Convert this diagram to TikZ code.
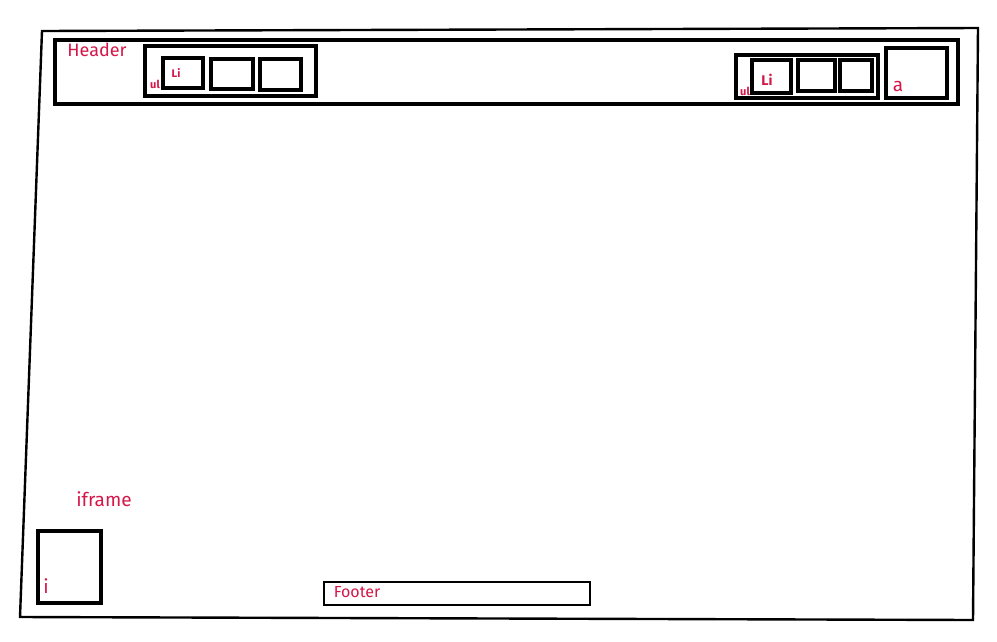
\documentclass[tikz,border=0pt]{standalone}
\usepackage{fontspec}
\setmainfont{Fira Sans}
\definecolor{inkred}{RGB}{212,22,72}

\begin{document}
\begin{tikzpicture}[
  x=1pt, y=-1pt,
  box/.style={draw,line width=3.4pt,inner sep=0pt},
  thinbox/.style={draw,line width=2.4pt,inner sep=0pt},
  lbl/.style={text=inkred,inner sep=0pt,font=\fontsize{19}{19}\selectfont},
  slbl/.style={text=inkred,inner sep=0pt,font=\fontsize{11}{11}\selectfont\bfseries}
]
  \useasboundingbox (0,0) rectangle (997,641);
  % page outline
  \draw[line width=2.4pt] (42,31) -- (978,28) -- (973,620) -- (20,617) -- cycle;
  % header bar
  \node[box,minimum width=903,minimum height=64] (header) at (506.5,72) {};
  \node[lbl,font=\fontsize{18}{18}\selectfont] (headertxt) at (97,50) {Header};
  % left menu
  \node[box,minimum width=171,minimum height=50] (ulL) at (230.5,71) {};
  \node[box,minimum width=40,minimum height=30] (liL1) at (183,73) {};
  \node[box,minimum width=42,minimum height=30] (liL2) at (232,74) {};
  \node[box,minimum width=41,minimum height=31] (liL3) at (280.5,74.5) {};
  \node[slbl] (ulLtxt) at (155,84) {ul};
  \node[slbl] (liLtxt) at (176,73) {Li};
  % right menu
  \node[box,minimum width=142,minimum height=43] (ulR) at (807,76.5) {};
  \node[box,minimum width=39,minimum height=33] (liR1) at (771.5,76.5) {};
  \node[box,minimum width=37,minimum height=31] (liR2) at (816.5,75.5) {};
  \node[box,minimum width=32,minimum height=31] (liR3) at (856,75.5) {};
  \node[slbl] (ulRtxt) at (745,91) {ul};
  \node[slbl,font=\fontsize{14}{14}\selectfont\bfseries] (liRtxt) at (767,80) {Li};
  % link box
  \node[box,minimum width=61,minimum height=50] (abox) at (916.5,73) {};
  \node[lbl] (atxt) at (898,86) {a};
  % iframe
  \node[lbl] (iframetxt) at (104,499) {iframe};
  \node[box,minimum width=63,minimum height=72] (ibox) at (69.5,567) {};
  \node[lbl] (itxt) at (46,586) {i};
  % footer
  \node[thinbox,minimum width=266,minimum height=23] (footer) at (457,593.5) {};
  \node[lbl,font=\fontsize{16}{16}\selectfont] (footertxt) at (357,592) {Footer};
\end{tikzpicture}
\end{document}
